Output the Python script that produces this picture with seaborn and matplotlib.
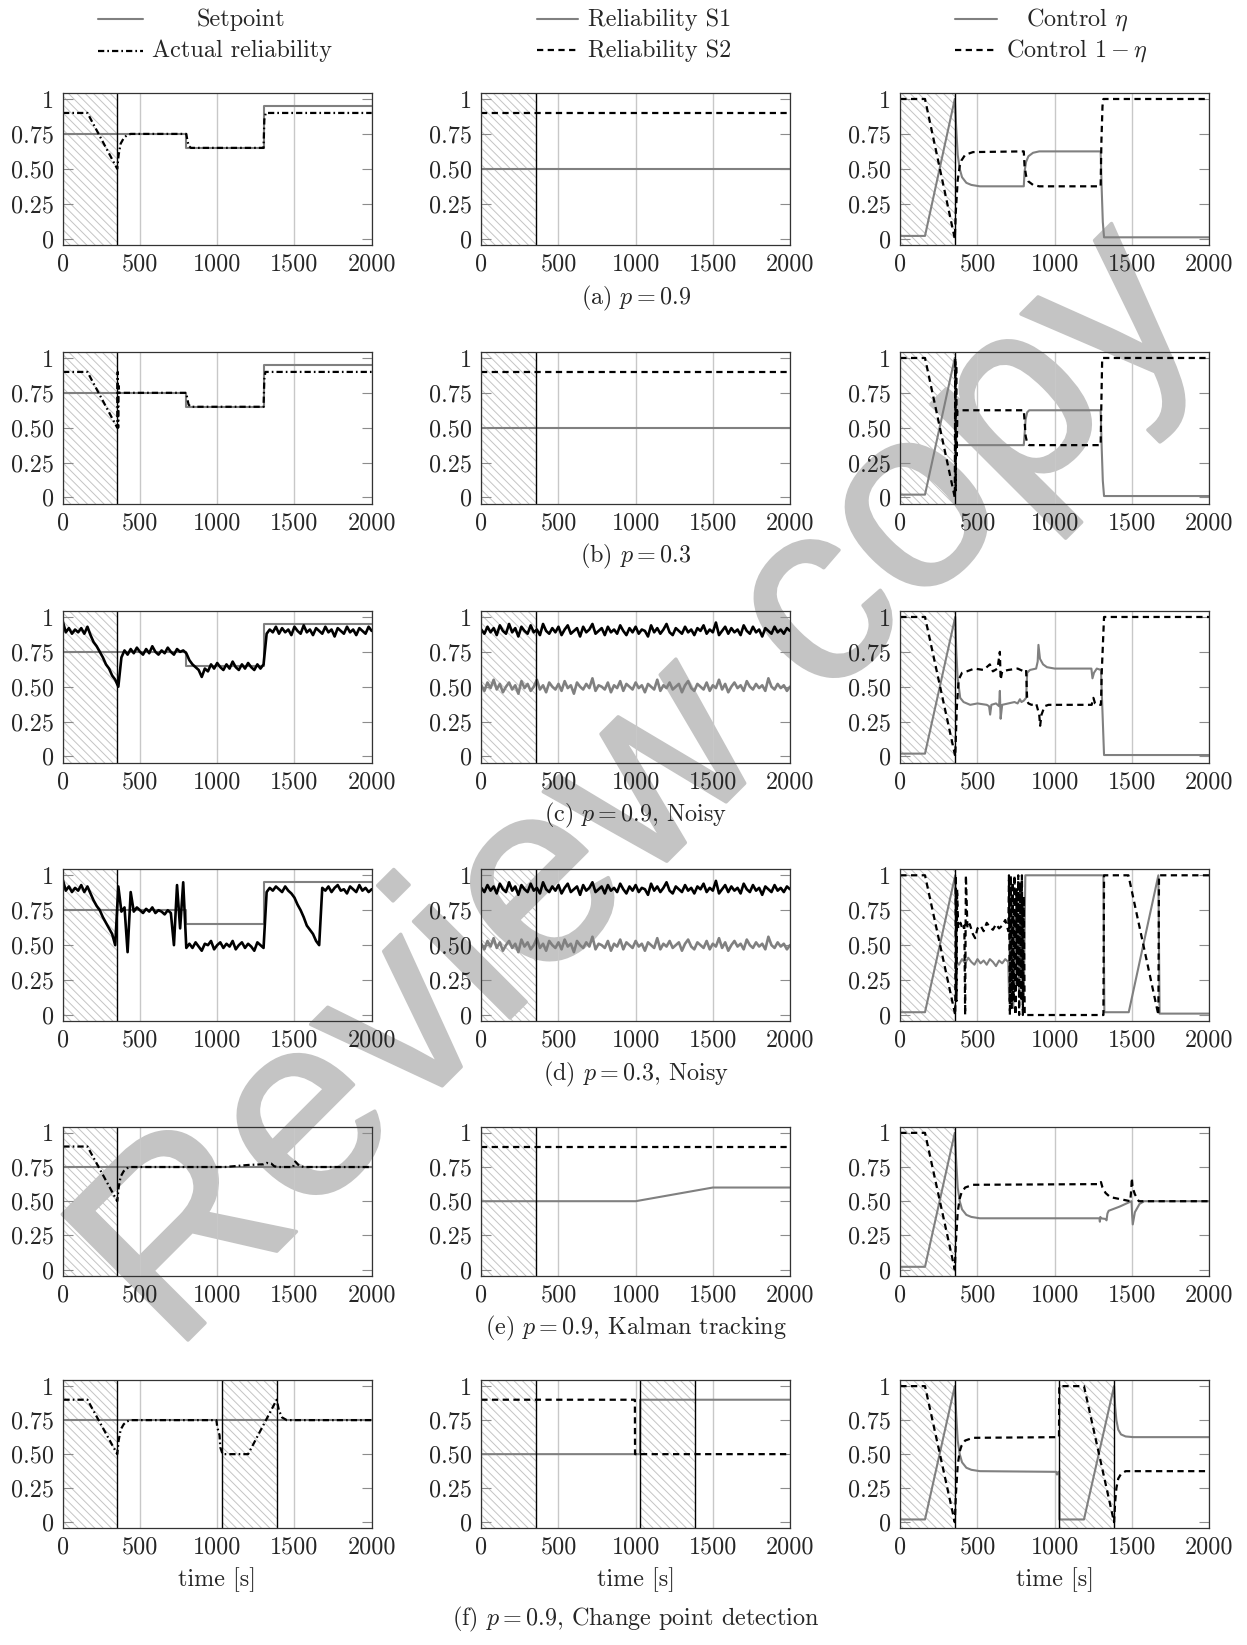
import matplotlib
matplotlib.use('Agg')
import matplotlib.pyplot as plt
import matplotlib.patheffects as pe
import seaborn as sns
import numpy as np
from matplotlib.lines import Line2D

sns.set_style('ticks')
plt.rcParams['font.family'] = ['cmr10', 'DejaVu Serif']
plt.rcParams['mathtext.fontset'] = 'cm'
plt.rcParams['axes.formatter.use_mathtext'] = True
plt.rcParams['lines.scale_dashes'] = False
plt.rcParams['hatch.linewidth'] = 0.7

W, H = 1247, 1645
FS = 17.4

# ---------------- data ----------------
grid_t = np.arange(0, 2001, 20)   # noisy runs are sampled every 20 s

sp_t = [0, 800, 800, 1300, 1300, 2000]
sp_v = [0.75, 0.75, 0.65, 0.65, 0.95, 0.95]
spc_t = [0, 2000]
spc_v = [0.75, 0.75]

rel_t = [0, 2000]
s1_v = [0.5, 0.5]
s2_v = [0.9, 0.9]

# (a) p = 0.9
a_act_t = [0, 2, 160, 353, 362, 375, 395, 415, 440, 800, 806, 815, 830, 1300, 1305, 1314, 2000]
a_act_v = [1.0, 0.9, 0.9, 0.5, 0.6, 0.68, 0.72, 0.74, 0.75, 0.75, 0.71, 0.665, 0.65, 0.65, 0.85, 0.9, 0.9]
a_eta_t = [0, 160, 353, 362, 372, 385, 400, 428, 460, 515, 800, 805, 815, 830, 860, 900, 1298, 1305, 1312, 1320, 2000]
a_eta_v = [0.02, 0.02, 1.0, 0.8, 0.6, 0.5, 0.44, 0.40, 0.385, 0.375, 0.375, 0.48, 0.55, 0.59, 0.615, 0.625, 0.625, 0.35, 0.12, 0.01, 0.01]
a_cmp_t = [0, 160, 353, 360, 372, 385, 396, 420, 471, 800, 805, 815, 830, 860, 900, 1298, 1303, 1310, 1316, 2000]
a_cmp_v = [1, 1, 0, 0.2, 0.42, 0.52, 0.56, 0.6, 0.62, 0.625, 0.52, 0.45, 0.41, 0.385, 0.375, 0.375, 0.7, 0.95, 1.0, 1.0]

# (b) p = 0.3
b_act_t = [0, 2, 160, 353, 356, 359, 362, 366, 800, 806, 815, 830, 1300, 1305, 1312, 2000]
b_act_v = [1.0, 0.9, 0.9, 0.5, 0.9, 0.5, 0.8, 0.75, 0.75, 0.71, 0.665, 0.65, 0.65, 0.85, 0.9, 0.9]
b_eta_t = [0, 160, 353, 358, 362, 366, 372, 800, 805, 812, 822, 835, 1298, 1305, 1312, 1320, 2000]
b_eta_v = [0.02, 0.02, 1.0, 0.5, 0.42, 0.39, 0.375, 0.375, 0.45, 0.56, 0.61, 0.625, 0.625, 0.35, 0.12, 0.01, 0.01]
b_cmp_t = [0, 160, 353, 356, 359, 362, 365, 370, 800, 805, 812, 822, 835, 1298, 1303, 1308, 2000]
b_cmp_v = [1, 1, 0, 1.0, 0.05, 0.95, 0.3, 0.625, 0.625, 0.55, 0.44, 0.39, 0.375, 0.375, 0.7, 1.0, 1.0]

# (c) p = 0.9, noisy
c_act_v = [0.97, 0.89, 0.92, 0.88, 0.91, 0.89, 0.92, 0.88, 0.93, 0.87,
           0.82, 0.79, 0.75, 0.71, 0.66, 0.63, 0.58, 0.55, 0.50, 0.71,
           0.76, 0.73, 0.77, 0.74, 0.78, 0.75, 0.73, 0.77, 0.74, 0.79,
           0.75, 0.73, 0.76, 0.74, 0.78, 0.75, 0.73, 0.77, 0.75, 0.76,
           0.74, 0.69, 0.66, 0.64, 0.62, 0.57, 0.63, 0.61, 0.66, 0.63,
           0.67, 0.64, 0.62, 0.66, 0.63, 0.68, 0.64, 0.62, 0.66, 0.63,
           0.67, 0.64, 0.62, 0.66, 0.63, 0.66, 0.88, 0.91, 0.89, 0.93,
           0.88, 0.92, 0.89, 0.91, 0.87, 0.93, 0.90, 0.88, 0.94, 0.89,
           0.91, 0.87, 0.92, 0.90, 0.88, 0.93, 0.89, 0.91, 0.86, 0.92,
           0.90, 0.88, 0.93, 0.89, 0.91, 0.87, 0.92, 0.90, 0.88, 0.93,
           0.90]
s1_noisy = [0.51, 0.47, 0.53, 0.49, 0.55, 0.48, 0.52, 0.46, 0.50, 0.53,
            0.48, 0.51, 0.45, 0.54, 0.49, 0.52, 0.47, 0.50, 0.55, 0.48,
            0.51, 0.46, 0.53, 0.50, 0.48, 0.52, 0.47, 0.54, 0.49, 0.51,
            0.45, 0.53, 0.50, 0.48, 0.52, 0.49, 0.56, 0.47, 0.51, 0.50,
            0.48, 0.53, 0.46, 0.51, 0.49, 0.54, 0.47, 0.52, 0.50, 0.48,
            0.53, 0.49, 0.51, 0.46, 0.52, 0.50, 0.48, 0.55, 0.47, 0.51,
            0.49, 0.53, 0.48, 0.50, 0.52, 0.46, 0.51, 0.54, 0.49, 0.47,
            0.52, 0.50, 0.48, 0.53, 0.47, 0.51, 0.49, 0.55, 0.48, 0.52,
            0.46, 0.50, 0.53, 0.49, 0.51, 0.47, 0.54, 0.50, 0.48, 0.52,
            0.49, 0.51, 0.47, 0.56, 0.50, 0.48, 0.52, 0.49, 0.51, 0.47,
            0.50]
s2_noisy = [0.91, 0.88, 0.93, 0.89, 0.92, 0.87, 0.94, 0.90, 0.88, 0.95,
            0.89, 0.92, 0.86, 0.93, 0.90, 0.88, 0.94, 0.89, 0.91, 0.87,
            0.95, 0.90, 0.88, 0.92, 0.89, 0.93, 0.87, 0.91, 0.94, 0.88,
            0.90, 0.92, 0.86, 0.93, 0.89, 0.91, 0.95, 0.88, 0.90, 0.92,
            0.87, 0.93, 0.89, 0.91, 0.88, 0.94, 0.90, 0.87, 0.92, 0.89,
            0.93, 0.88, 0.91, 0.90, 0.86, 0.94, 0.89, 0.92, 0.88, 0.91,
            0.95, 0.89, 0.87, 0.92, 0.90, 0.88, 0.93, 0.89, 0.91, 0.87,
            0.92, 0.90, 0.94, 0.88, 0.91, 0.89, 0.96, 0.87, 0.90, 0.93,
            0.88, 0.92, 0.89, 0.91, 0.87, 0.94, 0.90, 0.88, 0.93, 0.89,
            0.91, 0.86, 0.92, 0.90, 0.88, 0.93, 0.89, 0.91, 0.88, 0.92,
            0.90]
c_eta_t = [0, 160, 356, 363, 371, 388, 410, 453, 500, 560, 575, 582, 590, 620, 640, 645, 650, 660, 700, 740,
           760, 775, 785, 800, 815, 822, 840, 880, 890, 895, 905, 925, 950, 1000, 1100, 1200, 1238, 1245,
           1255, 1273, 1300, 1320, 2000]
c_eta_v = [0.02, 0.02, 1.0, 0.75, 0.57, 0.42, 0.39, 0.37, 0.38, 0.37, 0.36, 0.30, 0.37, 0.38, 0.36, 0.47, 0.27, 0.37, 0.38, 0.39,
           0.38, 0.41, 0.39, 0.40, 0.42, 0.60, 0.62, 0.63, 0.68, 0.80, 0.70, 0.66, 0.64, 0.63, 0.63, 0.63, 0.63, 0.56,
           0.60, 0.63, 0.62, 0.01, 0.01]
c_cmp_t = [0, 160, 356, 366, 378, 400, 431, 480, 540, 580, 600, 630, 645, 650, 660, 700, 760, 800, 815, 822,
           830, 850, 880, 900, 906, 915, 935, 960, 1000, 1100, 1200, 1240, 1251, 1262, 1275, 1300, 1305, 1320, 2000]
c_cmp_v = [1, 1, 0, 0.35, 0.55, 0.60, 0.61, 0.63, 0.62, 0.66, 0.61, 0.63, 0.75, 0.55, 0.61, 0.62, 0.63, 0.61, 0.62, 0.40,
           0.38, 0.37, 0.38, 0.30, 0.22, 0.30, 0.36, 0.37, 0.37, 0.37, 0.37, 0.37, 0.42, 0.38, 0.37, 0.37, 0.6, 1.0, 1.0]

# (d) p = 0.3, noisy
d_act_v = [0.97, 0.89, 0.92, 0.88, 0.91, 0.89, 0.93, 0.88, 0.92, 0.87,
           0.82, 0.78, 0.75, 0.70, 0.66, 0.62, 0.58, 0.50, 0.92, 0.74,
           0.77, 0.45, 0.88, 0.74, 0.77, 0.75, 0.73, 0.76, 0.74, 0.77,
           0.73, 0.75, 0.74, 0.72, 0.75, 0.73, 0.50, 0.93, 0.62, 0.95,
           0.48, 0.51, 0.48, 0.52, 0.49, 0.46, 0.51, 0.50, 0.53, 0.47,
           0.50, 0.52, 0.48, 0.51, 0.49, 0.53, 0.47, 0.50, 0.52, 0.48,
           0.51, 0.49, 0.46, 0.52, 0.50, 0.48, 0.88, 0.91, 0.89, 0.92,
           0.90, 0.88, 0.92, 0.89, 0.87, 0.84, 0.79, 0.75, 0.70, 0.64,
           0.61, 0.58, 0.53, 0.50, 0.91, 0.89, 0.92, 0.88, 0.91, 0.93,
           0.89, 0.90, 0.87, 0.92, 0.90, 0.88, 0.93, 0.89, 0.91, 0.88,
           0.90]
d_eta_t = [0, 160, 356, 365, 380, 400, 420, 440, 460, 480, 500, 520, 540, 560, 580, 600, 620, 640, 660, 680, 700,
           705, 712, 718, 725, 732, 740, 748, 755, 762, 770, 778, 785, 792, 800, 810,
           1316, 1322, 1480, 1672, 1680, 2000]
d_eta_v = [0.02, 0.02, 1.0, 0.38, 0.36, 0.40, 0.37, 0.41, 0.38, 0.36, 0.40, 0.37, 0.39, 0.36, 0.40, 0.38, 0.35, 0.39, 0.37, 0.40, 0.38,
           0.1, 0.95, 0.3, 0.85, 0.05, 0.7, 0.2, 0.9, 0.45, 0.15, 0.95, 0.3, 0.8, 0.1, 1.0,
           1.0, 0.02, 0.02, 1.0, 0.01, 0.01]
d_cmp_t = [0, 160, 356, 360, 364, 368, 375, 390, 405, 415, 420, 425, 435, 450, 470, 485, 500, 520, 540, 560, 580, 600,
           620, 640, 660, 680, 700, 704, 710, 716, 722, 728, 734, 740, 746, 752, 758, 764, 770, 776, 782, 788, 794, 800,
           806, 812, 1316, 1320, 1478, 1672, 1676, 2000]
d_cmp_v = [1, 1, 0, 1.0, 0.1, 0.9, 0.62, 0.66, 0.61, 0.64, 0.0, 1.0, 0.62, 0.65, 0.58, 0.55, 0.62, 0.64, 0.60, 0.66, 0.63, 0.61,
           0.65, 0.62, 0.64, 0.68, 0.60, 1.0, 0.0, 1.0, 0.05, 0.95, 0.1, 1.0, 0.0, 0.9, 0.2, 1.0, 0.0, 0.95, 0.1, 1.0, 0.0, 0.85,
           0.0, 0.0, 0.0, 1.0, 1.0, 0.0, 1.0, 1.0]

# (e) p = 0.9, Kalman tracking
e_act_t = [0, 2, 160, 353, 362, 375, 395, 415, 440, 1050, 1200, 1300, 1320, 1350, 1370, 1400, 1490, 1505, 1530, 1560, 2000]
e_act_v = [1.0, 0.9, 0.9, 0.5, 0.6, 0.68, 0.72, 0.74, 0.75, 0.75, 0.765, 0.77, 0.78, 0.775, 0.755, 0.75, 0.75, 0.79, 0.76, 0.75, 0.75]
e_s1_t = [0, 1000, 1500, 2000]
e_s1_v = [0.5, 0.5, 0.6, 0.6]
e_eta_t = [0, 160, 353, 362, 372, 385, 400, 428, 460, 515, 1290, 1293, 1296, 1300, 1330, 1336, 1342, 1350, 1420,
           1498, 1502, 1506, 1520, 1550, 1580, 2000]
e_eta_v = [0.02, 0.02, 1.0, 0.8, 0.6, 0.5, 0.44, 0.40, 0.385, 0.375, 0.375, 0.35, 0.385, 0.375, 0.37, 0.36, 0.41, 0.43, 0.46,
           0.50, 0.40, 0.33, 0.42, 0.48, 0.50, 0.50]
e_cmp_t = [0, 160, 353, 360, 372, 385, 396, 420, 471, 1290, 1300, 1310, 1330, 1360, 1490, 1497, 1500, 1505, 1520, 1545, 2000]
e_cmp_v = [1, 1, 0, 0.2, 0.42, 0.52, 0.56, 0.6, 0.62, 0.625, 0.64, 0.60, 0.56, 0.53, 0.50, 0.60, 0.67, 0.60, 0.55, 0.50, 0.50]

# (f) p = 0.9, change point detection
f_act_t = [0, 2, 160, 353, 362, 375, 395, 415, 440, 995, 1000, 1015, 1020, 1035, 1200, 1385, 1400, 1420, 1450, 2000]
f_act_v = [1.0, 0.9, 0.9, 0.5, 0.6, 0.68, 0.72, 0.74, 0.75, 0.75, 0.70, 0.64, 0.55, 0.5, 0.5, 0.9, 0.82, 0.77, 0.75, 0.75]
f_s1_t = [0, 1028, 1029, 2000]
f_s1_v = [0.5, 0.5, 0.9, 0.9]
f_s2_t = [0, 995, 996, 2000]
f_s2_v = [0.9, 0.9, 0.5, 0.5]
f_eta_t = [0, 160, 353, 362, 372, 385, 400, 428, 460, 515, 1010, 1015, 1020, 1025, 1030, 1031, 1190, 1385, 1392,
           1400, 1412, 1430, 1460, 1510, 2000]
f_eta_v = [0.02, 0.02, 1.0, 0.8, 0.6, 0.5, 0.44, 0.40, 0.385, 0.375, 0.37, 0.35, 0.36, 0.37, 0.37, 0.02, 0.02, 1.0, 0.85,
           0.75, 0.68, 0.645, 0.63, 0.625, 0.625]
f_cmp_t = [0, 160, 353, 360, 372, 385, 396, 420, 471, 1028, 1030, 1190, 1385, 1392, 1400, 1412, 1430, 1460, 2000]
f_cmp_v = [1, 1, 0, 0.2, 0.42, 0.52, 0.56, 0.6, 0.62, 0.625, 1.0, 1.0, 0.0, 0.15, 0.25, 0.32, 0.355, 0.375, 0.375]

# exploration phases (hatched)
explore = [[(0, 353)], [(0, 353)], [(0, 353)], [(0, 353)], [(0, 353)], [(0, 353), (1030, 1385)]]

captions = ['(a) $p = 0.9$', '(b) $p = 0.3$', '(c) $p = 0.9$, Noisy', '(d) $p = 0.3$, Noisy',
            '(e) $p = 0.9$, Kalman tracking', '(f) $p = 0.9$, Change point detection']

# ---------------- styles ----------------
GRAY = dict(color='#808080', lw=1.5, linestyle='-')
GRAYN = dict(color='#808080', lw=1.9, linestyle='-')
DASH = dict(color='black', lw=1.6, linestyle=(0, (4.5, 3.2)))
DDOT = dict(color='black', lw=1.6, linestyle=(0, (4.5, 2.2, 1.2, 2.2)))
BLKN = dict(color='black', lw=1.9, linestyle='-')

panels = {
    (0, 0): [(sp_t, sp_v, GRAY), (a_act_t, a_act_v, DDOT)],
    (0, 1): [(rel_t, s1_v, GRAY), (rel_t, s2_v, DASH)],
    (0, 2): [(a_eta_t, a_eta_v, GRAY), (a_cmp_t, a_cmp_v, DASH)],
    (1, 0): [(sp_t, sp_v, GRAY), (b_act_t, b_act_v, DDOT)],
    (1, 1): [(rel_t, s1_v, GRAY), (rel_t, s2_v, DASH)],
    (1, 2): [(b_eta_t, b_eta_v, GRAY), (b_cmp_t, b_cmp_v, DASH)],
    (2, 0): [(sp_t, sp_v, GRAY), (grid_t, c_act_v, BLKN)],
    (2, 1): [(grid_t, s1_noisy, GRAYN), (grid_t, s2_noisy, BLKN)],
    (2, 2): [(c_eta_t, c_eta_v, GRAY), (c_cmp_t, c_cmp_v, DASH)],
    (3, 0): [(sp_t, sp_v, GRAY), (grid_t, d_act_v, BLKN)],
    (3, 1): [(grid_t, s1_noisy, GRAYN), (grid_t, s2_noisy, BLKN)],
    (3, 2): [(d_eta_t, d_eta_v, GRAY), (d_cmp_t, d_cmp_v, DASH)],
    (4, 0): [(spc_t, spc_v, GRAY), (e_act_t, e_act_v, DDOT)],
    (4, 1): [(e_s1_t, e_s1_v, GRAY), (rel_t, s2_v, DASH)],
    (4, 2): [(e_eta_t, e_eta_v, GRAY), (e_cmp_t, e_cmp_v, DASH)],
    (5, 0): [(spc_t, spc_v, GRAY), (f_act_t, f_act_v, DDOT)],
    (5, 1): [(f_s1_t, f_s1_v, GRAY), (f_s2_t, f_s2_v, DASH)],
    (5, 2): [(f_eta_t, f_eta_v, GRAY), (f_cmp_t, f_cmp_v, DASH)],
}

# layout in pixels
col_x = [(62.7, 371.7), (481.3, 790.0), (900.3, 1209.0)]
row_y = [(92.7, 245.0), (351.7, 503.7), (610.7, 762.7), (869.0, 1021.3), (1126.7, 1275.7), (1380.0, 1528.3)]

fig = plt.figure(figsize=(W / 100, H / 100), dpi=100)
fig.patch.set_facecolor('white')

# watermark behind everything: the two words sit on one 45 degree baseline
wm = dict(rotation=45, rotation_mode='anchor', ha='left', va='baseline', fontsize=186,
          color='#c4c4c4', family='Liberation Sans', zorder=-1,
          path_effects=[pe.withStroke(linewidth=2.5, foreground='#c4c4c4')])
fig.text(173 / W, 290 / H, 'Review', **wm)
fig.text(822.5 / W, 939.5 / H, 'copy', **wm)

for r in range(6):
    for c in range(3):
        x0, x1 = col_x[c]
        y0, y1 = row_y[r]
        ax = fig.add_axes([x0 / W, 1 - y1 / H, (x1 - x0) / W, (y1 - y0) / H])
        ax.set_facecolor('none')
        for lo, hi in explore[r]:
            ax.axvspan(lo, hi, facecolor='none', edgecolor='#c4c4c4', hatch='\\' * 4, lw=0, zorder=0.4)
        ax.set_axisbelow(True)
        ax.grid(axis='x', color='#c8c8c8', lw=1.0)
        ax.grid(axis='y', visible=False)
        for t, v, st in panels[(r, c)]:
            sns.lineplot(x=list(t[:len(v)]), y=v, ax=ax, estimator=None, sort=False, legend=False, **st)
        for lo, hi in explore[r]:
            for xb in (lo, hi):
                if xb > 0:
                    ax.axvline(xb, color='black', lw=1.0, zorder=2.5)
        ax.set_xlim(0, 2000)
        ax.set_ylim(-0.045, 1.045)
        ax.set_xticks([0, 500, 1000, 1500, 2000])
        ax.set_xticklabels(['0', '500', '1000', '1500', '2000'])
        ax.set_yticks([0, 0.25, 0.5, 0.75, 1])
        ax.set_yticklabels(['0', '0.25', '0.50', '0.75', '1'])
        ax.tick_params(axis='y', direction='in', length=7, width=0.8, color='#8c8c8c',
                       left=True, right=True, labelsize=FS, pad=6.5)
        ax.tick_params(axis='x', direction='in', length=0, labelsize=FS, pad=6.0)
        for s in ax.spines.values():
            s.set_color('#333333')
            s.set_linewidth(0.9)
        ax.set_xlabel('')
        ax.set_ylabel('')
        if r == 5:
            fig.text((x0 + x1) / 2 / W, 1 - 1580 / H, 'time [s]', ha='center', va='center', fontsize=FS)
    cap_y = row_y[r][1] + 53 if r < 5 else 1619
    fig.text(635.6 / W, 1 - cap_y / H, captions[r], ha='center', va='center', fontsize=FS)

# legends above the three columns
def leg_line(x0, x1, y, st):
    fig.add_artist(Line2D([x0 / W, x1 / W], [1 - y / H, 1 - y / H], transform=fig.transFigure,
                          color=st['color'], lw=st['lw'], linestyle=st['linestyle']))

leg_line(98, 143, 19, GRAY)
leg_line(98, 143, 50.5, DDOT)
fig.text(241 / W, 1 - 26 / H, 'Setpoint', ha='center', va='baseline', fontsize=FS)
fig.text(242 / W, 1 - 57 / H, 'Actual reliability', ha='center', va='baseline', fontsize=FS)

leg_line(537, 578, 18.5, GRAY)
leg_line(537, 578, 50, DASH)
fig.text(588 / W, 1 - 26 / H, 'Reliability S1', ha='left', va='baseline', fontsize=FS)
fig.text(588 / W, 1 - 57 / H, 'Reliability S2', ha='left', va='baseline', fontsize=FS)

leg_line(955, 997, 18.5, GRAY)
leg_line(955, 997, 50, DASH)
fig.text(1077 / W, 1 - 26 / H, r'Control $\eta$', ha='center', va='baseline', fontsize=FS)
fig.text(1077 / W, 1 - 57 / H, r'Control $1 - \eta$', ha='center', va='baseline', fontsize=FS)

fig.savefig('out.png', dpi=100, facecolor='white')
